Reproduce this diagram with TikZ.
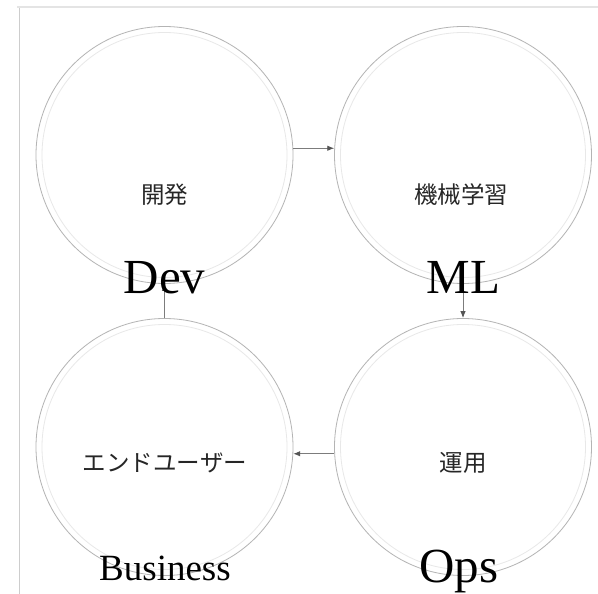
\documentclass[tikz,border=0pt]{standalone}
\usepackage{fontspec}
\setmainfont{Liberation Serif}
\newfontfamily\cjk{Noto Sans CJK JP}
\usetikzlibrary{arrows.meta}
\definecolor{ringout}{HTML}{B4B4B4}
\definecolor{ringin}{HTML}{E8E8E8}
\definecolor{flow}{HTML}{7C7C7C}
\definecolor{tipc}{HTML}{555555}
\definecolor{frameside}{HTML}{CDCDCD}
\definecolor{frametop}{HTML}{E4E4E4}
\begin{document}
\begin{tikzpicture}[x=1pt,y=-1pt,
  stage/.style={circle,draw=ringout,line width=0.8pt,minimum size=257pt,inner sep=0pt},
  innerring/.style={draw=ringin,line width=0.8pt},
  flowarrow/.style={draw=flow,line width=0.9pt,-{Latex[length=7pt,width=5.5pt,color=tipc]}},
  jplabel/.style={font=\cjk\fontsize{23.5}{23.5}\selectfont,text=black!85,inner sep=0pt},
  biglabel/.style={font=\fontsize{49}{49}\selectfont,inner sep=0pt,anchor=base},
  midlabel/.style={font=\fontsize{37}{37}\selectfont,inner sep=0pt,anchor=base}]
\useasboundingbox (0,0) rectangle (598,594);
\fill[white] (0,0) rectangle (598,594);
% page frame
\draw[frameside,line width=0.8pt] (19.5,8) -- (19.5,594);
\draw[frametop,line width=2pt] (17,7) -- (598,7);
% the four stages
\node[stage] (dev) at (164.5,155) {};
\node[stage] (ml)  at (463,155) {};
\node[stage] (ops) at (463,447) {};
\node[stage] (biz) at (164.5,447) {};
\foreach \n in {dev,ml,ops,biz}
  \draw[innerring] (\n.center) circle (122.5pt);
% cycle connectors
\draw[flowarrow] (dev.3) -- (ml.177);
\draw[flowarrow] (ml.south) -- (ops.north);
\draw[flowarrow] (ops.183) -- (biz.357);
\draw[flowarrow] (biz.north) -- (dev.south);
% inner texts
\node[jplabel] (devjp) at (164.5,195) {開発};
\node[jplabel] (mljp)  at (461,195) {機械学習};
\node[jplabel] (opsjp) at (463,463) {運用};
\node[jplabel] (bizjp) at (165,463) {エンドユーザー};
% stage names
\node[biglabel] (devname) at (164.5,293) {Dev};
\node[biglabel] (mlname)  at (463.5,293) {ML};
\node[biglabel] (opsname) at (459,582) {Ops};
\node[midlabel] (bizname) at (165,580) {Business};
\end{tikzpicture}
\end{document}
